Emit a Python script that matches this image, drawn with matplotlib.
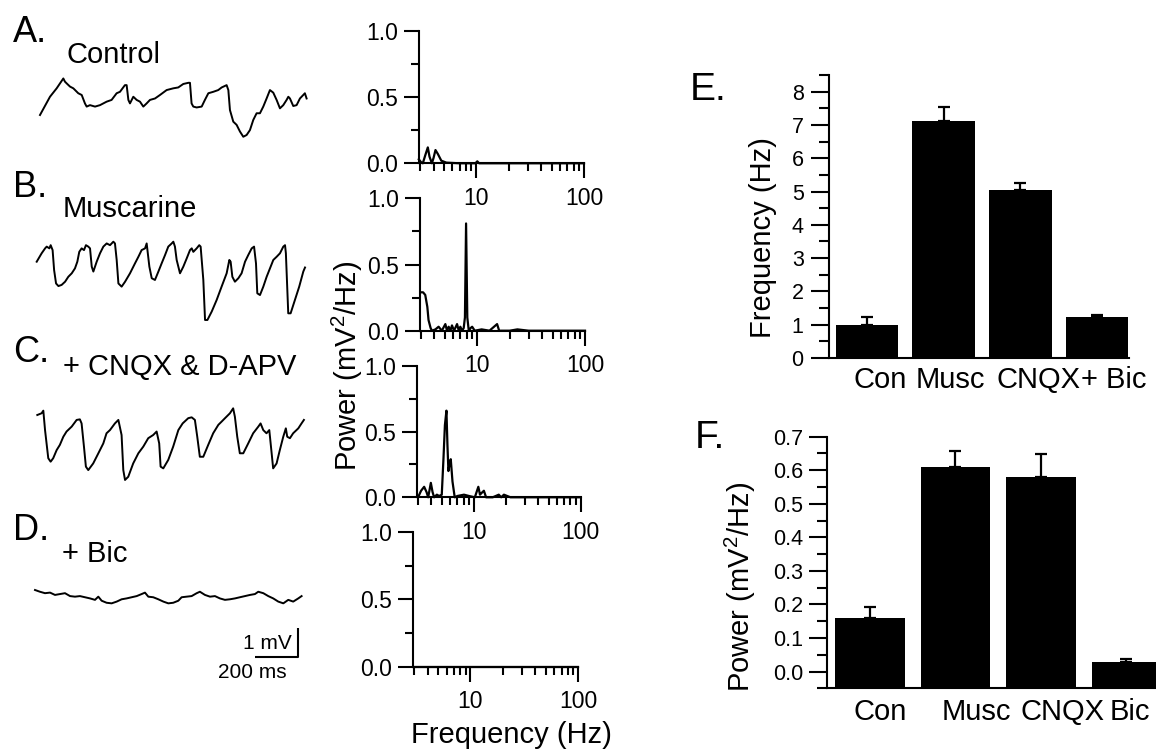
import numpy as np
import matplotlib
matplotlib.use("Agg")
import matplotlib.pyplot as plt
from matplotlib.ticker import FixedLocator, NullFormatter, LogLocator, MultipleLocator

plt.rcParams['font.family'] = ['Liberation Sans', 'DejaVu Sans']
plt.rcParams['mathtext.fontset'] = 'custom'
plt.rcParams['mathtext.rm'] = 'Liberation Sans'

# ---------------- data ----------------
# voltage traces (time in ms, membrane potential in mV relative to trace start)
trace_a_t = [0, 46.5, 77.5, 108.5, 116, 124, 139.5, 155, 178, 194, 209, 217, 232.5, 256, 279, 310, 333, 356.5,
             372, 395, 403, 411, 418.5, 434, 449.5, 465, 480.5, 496, 511.5, 535, 558, 589, 620, 643, 666.5, 690,
             697.5, 705, 713, 728.5, 752, 767, 783, 806, 829, 845, 868, 876, 883.5, 899, 914.5, 930, 945.5, 961,
             976.5, 992, 1007.5, 1023, 1038.5, 1054, 1069.5, 1085, 1100.5, 1116, 1131.5, 1147, 1155, 1162.5, 1178,
             1193.5, 1209, 1224.5, 1232, 1240]
trace_a_v = [0, 0.63, 0.92, 1.26, 1.15, 1.09, 0.98, 0.92, 0.75, 0.69, 0.40, 0.29, 0.34, 0.29, 0.34, 0.46, 0.52, 0.75,
             0.80, 1.03, 1.03, 0.52, 0.40, 0.63, 0.52, 0.46, 0.29, 0.40, 0.52, 0.57, 0.69, 0.86, 0.92, 0.95, 1.07, 1.11,
             1.11, 0.40, 0.29, 0.26, 0.29, 0.52, 0.75, 0.80, 0.86, 0.95, 1.03, 0.86, 0.17, -0.23, -0.34, -0.57, -0.75,
             -0.69, -0.52, -0.17, 0.06, 0.06, 0.29, 0.57, 0.86, 0.77, 0.52, 0.23, 0.34, 0.52, 0.63, 0.57, 0.31, 0.34,
             0.57, 0.69, 0.75, 0.57]

trace_b_t = [0, 23, 39, 46.5, 59, 65, 74, 81, 90, 101, 116, 132, 147, 163, 178, 189, 198, 209, 220, 229, 240, 248,
             256, 263.5, 279, 294.5, 310, 325.5, 341, 356.5, 364, 372, 380, 395, 411, 434, 457, 473, 488, 504, 511.5,
             524, 535, 550, 566, 581, 597, 612, 628, 635.5, 643, 651, 666.5, 682, 697.5, 713, 721, 728.5, 744, 756,
             762.5, 775, 783, 794, 814, 837, 860, 883.5, 896, 902, 910, 922, 938, 953, 969, 984, 1000, 1011, 1020,
             1026, 1038.5, 1054, 1069.5, 1085, 1100.5, 1116, 1131.5, 1147, 1155, 1159, 1170, 1181, 1201, 1221, 1240,
             1248]
trace_b_v = [0, 0.29, 0.46, 0.52, 0.46, 0.57, 0.40, -0.29, -0.75, -0.84, -0.80, -0.69, -0.52, -0.40, -0.23, 0, 0.34,
             0.46, 0.40, 0.57, 0.52, 0.46, -0.17, -0.34, 0, 0.29, 0.52, 0.63, 0.57, 0.69, 0.63, 0.06, -0.75, -0.86,
             -0.69, -0.40, -0.06, 0.17, 0.40, 0.46, 0.63, -0.17, -0.57, -0.63, -0.34, -0.06, 0.23, 0.52, 0.63, 0.69,
             0.52, 0.06, -0.40, -0.17, 0.11, 0.40, 0.46, 0.34, 0.46, 0.57, 0.52, -0.63, -2.01, -2.01, -1.72, -1.32,
             -0.86, -0.40, 0.06, 0, -0.52, -0.69, -0.57, -0.40, 0, 0.23, 0.46, 0.52, -0.06, -1.09, -1.15, -0.86, -0.52,
             -0.23, 0.06, 0.17, 0.29, 0.52, 0.57, 0.29, -1.78, -1.78, -1.32, -0.86, -0.34, -0.20]

trace_c_t = [0, 20, 28, 36, 51, 62, 74, 90, 105, 121, 136, 160, 183, 198, 206, 217, 226, 237, 260, 284, 307, 322,
             338, 361, 377, 392, 400, 408, 423, 446, 470, 493, 516, 539, 555, 567, 573.5, 586, 609, 632, 656, 676,
             702, 718, 733, 744, 756, 772, 795, 818, 842, 857, 873, 896, 911, 919, 930, 942, 958, 981, 1004, 1028,
             1038.5, 1051, 1066, 1079, 1090, 1097, 1113, 1128, 1144, 1156, 1162.5, 1175, 1190, 1214, 1229, 1240]
trace_c_v = [0, 0.06, 0.15, -0.52, -1.49, -1.61, -1.49, -1.21, -1.03, -0.75, -0.57, -0.40, -0.17, -0.15, -0.29,
             -1.09, -1.78, -1.90, -1.67, -1.32, -0.98, -0.63, -0.52, -0.29, -0.17, -0.69, -1.90, -2.24, -2.13, -1.67,
             -1.32, -1.09, -0.80, -0.69, -0.57, -0.98, -1.78, -1.84, -1.55, -1.09, -0.52, -0.29, -0.11, -0.08, -0.17,
             -0.75, -1.44, -1.44, -1.03, -0.63, -0.34, -0.23, -0.11, 0.06, 0.23, -0.06, -0.75, -1.32, -1.32, -0.98,
             -0.63, -0.40, -0.29, -0.52, -0.63, -0.52, -1.32, -1.84, -1.67, -1.21, -0.75, -0.46, -0.75, -0.80, -0.63,
             -0.46, -0.29, -0.17]

trace_d_t = [0, 23, 46.5, 70, 93, 116, 139.5, 163, 186, 209, 232.5, 256, 279, 294.5, 310, 333, 356.5, 380, 403, 426,
             449.5, 473, 496, 511.5, 527, 550, 573.5, 597, 620, 643, 666.5, 682, 705, 728.5, 752, 767, 790.5, 814, 837,
             860, 883.5, 907, 930, 953, 976.5, 1000, 1023, 1038.5, 1062, 1085, 1108, 1131.5, 1155, 1178, 1201, 1224.5,
             1240]
trace_d_v = [0, -0.06, -0.11, -0.09, -0.17, -0.14, -0.11, -0.21, -0.23, -0.21, -0.25, -0.29, -0.34, -0.23, -0.37,
             -0.44, -0.46, -0.40, -0.32, -0.29, -0.25, -0.21, -0.14, -0.09, -0.23, -0.25, -0.32, -0.40, -0.46, -0.44,
             -0.37, -0.25, -0.23, -0.21, -0.11, -0.06, -0.17, -0.23, -0.21, -0.29, -0.34, -0.32, -0.29, -0.25, -0.21,
             -0.17, -0.14, -0.06, -0.11, -0.21, -0.29, -0.40, -0.46, -0.34, -0.40, -0.29, -0.21]

trace_labels = ["Control", "Muscarine", "+ CNQX & D-APV", "+ Bic"]
panel_letters = ["A.", "B.", "C.", "D."]

# power spectra (Hz, mV^2/Hz)
spec_a_f = [2.92, 3.05, 3.18, 3.35, 3.54, 3.67, 3.86, 4.0, 4.17, 4.39, 4.72, 5.26, 7, 9.8, 10.2, 10.6, 15, 30, 100]
spec_a_p = [0.03, 0.01, 0.0, 0.06, 0.12, 0.05, 0.0, 0.04, 0.10, 0.07, 0.02, 0.005, 0.0, 0.0, 0.015, 0.0, 0.0, 0.0, 0.0]
spec_b_f = [3.0, 3.15, 3.3, 3.45, 3.54, 3.7, 3.81, 4.1, 4.39, 4.7, 5.07, 5.25, 5.44, 5.65, 5.84, 6.1, 6.51, 6.75,
            6.98, 7.25, 7.5, 7.7, 7.89, 8.1, 8.36, 8.7, 8.98, 9.5, 11, 13, 15.3, 16, 20, 23.6, 30, 100]
spec_b_p = [0.29, 0.29, 0.27, 0.18, 0.08, 0.02, 0.0, 0.01, 0.03, 0.0, 0.05, 0.0, 0.03, 0.0, 0.04, 0.0, 0.05, 0.0,
            0.03, 0.0, 0.02, 0.1, 0.81, 0.1, 0.0, 0.02, 0.03, 0.0, 0.01, 0.0, 0.05, 0.0, 0.0, 0.01, 0.0, 0.0]
spec_c_f = [3.0, 3.2, 3.42, 3.6, 3.73, 3.85, 3.95, 4.1, 4.24, 4.5, 4.72, 5.0, 5.19, 5.35, 5.53, 5.65, 5.77, 5.9,
            6.07, 6.3, 6.61, 7.0, 8.07, 9.0, 10.2, 11.0, 11.4, 11.7, 12.4, 13.0, 15, 17.1, 18, 19.1, 22, 30, 100]
spec_c_p = [0.0, 0.05, 0.08, 0.04, 0.0, 0.06, 0.11, 0.04, 0.0, 0.02, 0.01, 0.02, 0.3, 0.55, 0.66, 0.4, 0.2, 0.25,
            0.29, 0.12, 0.0, 0.01, 0.02, 0.01, 0.0, 0.08, 0.02, 0.03, 0.05, 0.0, 0.0, 0.02, 0.0, 0.02, 0.0, 0.0, 0.0]
spec_d_f = [3.0, 100]
spec_d_p = [0.0, 0.0]

# bar charts
bar_categories_e = ["Con", "Musc", "CNQX", "+ Bic"]
freq_mean = [1.0, 7.12, 5.06, 1.23]
freq_err = [0.24, 0.42, 0.20, 0.07]
bar_categories_f = ["Con", "Musc", "CNQX", "Bic"]
power_mean = [0.161, 0.609, 0.579, 0.028]
power_err = [0.031, 0.049, 0.070, 0.010]

# ---------------- layout helpers ----------------
W, H = 1156, 755
fig = plt.figure(figsize=(W / 100, H / 100), dpi=100)
fig.patch.set_facecolor('white')


def px_axes(left, top, right, bottom):
    return fig.add_axes([left / W, 1 - bottom / H, (right - left) / W, (bottom - top) / H])


def ftext(x, y, s, **kw):
    return fig.text(x / W, 1 - y / H, s, **kw)


LW = 1.5

# ---------------- traces ----------------
MS_PER_PX = 200 / 43.0
MV_PER_PX = 1 / 29.0
X0 = 37
ax_tr = px_axes(0, 0, 330, 700)
ax_tr.set_xlim(-X0 * MS_PER_PX, (330 - X0) * MS_PER_PX)
ax_tr.set_ylim(-700 * MV_PER_PX, 0)
ax_tr.axis('off')

traces = [(trace_a_t, trace_a_v), (trace_b_t, trace_b_v), (trace_c_t, trace_c_v), (trace_d_t, trace_d_v)]
trace_start_px = [(40, 115), (36.7, 261.7), (37.3, 415), (35, 590)]
for (t, v), (sx, sy) in zip(traces, trace_start_px):
    toff = (sx - X0) * MS_PER_PX
    voff = -sy * MV_PER_PX
    ax_tr.plot(np.array(t) + toff, np.array(v) + voff, color='black', lw=1.4, solid_joinstyle='round')

# scale bar: 200 ms x 1 mV
sb_x = (298 - X0) * MS_PER_PX
sb_y = -657 * MV_PER_PX
ax_tr.plot([sb_x - 200, sb_x, sb_x], [sb_y, sb_y, sb_y + 1], color='black', lw=1.5, solid_capstyle='butt')
ax_tr.text(sb_x - 6 * MS_PER_PX, sb_y + 0.45, "1 mV", ha='right', va='center', fontsize=15)
ax_tr.text(sb_x - 46 * MS_PER_PX, sb_y - 0.55, "200 ms", ha='center', va='center', fontsize=15)

letter_pos = [(13, 42), (13, 197), (13, 362), (13, 540)]
label_pos = [(67, 63), (63, 216.7), (63, 375), (62, 562)]
for s, (x, y) in zip(panel_letters, letter_pos):
    ftext(x, y, s, fontsize=26, va='baseline', ha='left')
for s, (x, y) in zip(trace_labels, label_pos):
    ftext(x, y, s, fontsize=21, va='baseline', ha='left')

# ---------------- spectra ----------------
spec_boxes = [(419.3, 30.7, 584, 163.3), (420, 198.3, 585, 330.7), (417.3, 366, 580.7, 497.3),
              (413.3, 532, 578.3, 666.7)]
specs = [(spec_a_f, spec_a_p), (spec_b_f, spec_b_p), (spec_c_f, spec_c_p), (spec_d_f, spec_d_p)]
for (f, p), box in zip(specs, spec_boxes):
    ax = px_axes(*box)
    ax.plot(f, p, color='black', lw=1.6, clip_on=False)
    ax.set_xscale('log')
    ax.set_xlim(2.95, 100)
    ax.set_ylim(0, 1.0)
    ax.xaxis.set_major_locator(FixedLocator([10, 100]))
    ax.set_xticklabels(['10', '100'])
    ax.xaxis.set_minor_locator(LogLocator(base=10, subs=[2, 3, 4, 5, 6, 7, 8, 9]))
    ax.xaxis.set_minor_formatter(NullFormatter())
    ax.set_yticks([0, 0.5, 1.0])
    ax.set_yticklabels(['0.0', '0.5', '1.0'])
    ax.yaxis.set_minor_locator(FixedLocator([0.25, 0.75]))
    for s in ['top', 'right']:
        ax.spines[s].set_visible(False)
    for s in ['left', 'bottom']:
        ax.spines[s].set_linewidth(LW)
    ax.tick_params(which='major', direction='out', length=11, width=LW, labelsize=16.5, pad=4)
    ax.tick_params(which='minor', direction='out', length=6, width=LW)
    ax.tick_params(axis='x', which='major', pad=6)
    ax.patch.set_alpha(0)

ftext(347, 366, 'Power (mV$^{2}$/Hz)', rotation=90, ha='center', va='center', fontsize=21)
ftext(511.7, 735, 'Frequency (Hz)', ha='center', va='center', fontsize=21)

# ---------------- bar chart E ----------------
E_DX = 76.7  # px per category
axE = px_axes(828.7, 75, 828.7 + 3.91 * E_DX, 358)
xe = np.arange(len(freq_mean))
axE.bar(xe, freq_mean, width=0.816, color='black')
axE.errorbar(xe, freq_mean, yerr=[np.zeros(len(freq_err)), freq_err], fmt='none', ecolor='black',
             elinewidth=1.6, capsize=4, capthick=1.6)
axE.set_xlim(-0.5, 3.41)
axE.set_ylim(0, 8.5)
axE.yaxis.set_major_locator(MultipleLocator(1))
axE.yaxis.set_minor_locator(MultipleLocator(0.5))
e_label_shift = [0.17, 0.08, 0.23, 0.21]
axE.set_xticks(xe + np.array(e_label_shift))
axE.set_xticklabels(bar_categories_e, fontsize=21)
axE.tick_params(axis='x', length=0, pad=6)
axE.tick_params(axis='y', which='major', direction='out', length=13, width=LW, labelsize=15.5, pad=5)
axE.tick_params(axis='y', which='minor', direction='out', length=7, width=LW)
for s in ['top', 'right']:
    axE.spines[s].set_visible(False)
for s in ['left', 'bottom']:
    axE.spines[s].set_linewidth(LW)
ftext(763, 237.5, 'Frequency (Hz)', rotation=90, ha='center', va='center', fontsize=21)
ftext(690, 100, 'E.', fontsize=28, va='baseline', ha='left')

# ---------------- bar chart F ----------------
F_DX = 85.5
axF = px_axes(826.7, 436.7, 826.7 + 4.0 * F_DX, 688.3)
xf = np.arange(len(power_mean))
axF.bar(xf, np.array(power_mean) + 0.05, bottom=-0.05, width=0.81, color='black')
axF.errorbar(xf, power_mean, yerr=[np.zeros(len(power_err)), power_err], fmt='none', ecolor='black',
             elinewidth=1.6, capsize=4.5, capthick=1.6)
axF.set_xlim(-0.506, 3.494)
axF.set_ylim(-0.05, 0.7)
axF.set_yticks([0.0, 0.1, 0.2, 0.3, 0.4, 0.5, 0.6, 0.7])
axF.set_yticklabels(['0.0', '0.1', '0.2', '0.3', '0.4', '0.5', '0.6', '0.7'])
axF.yaxis.set_minor_locator(FixedLocator([-0.05, 0.05, 0.15, 0.25, 0.35, 0.45, 0.55, 0.65]))
f_label_shift = [0.12, 0.25, 0.25, 0.04]
axF.set_xticks(xf + np.array(f_label_shift))
axF.set_xticklabels(bar_categories_f, fontsize=21)
axF.tick_params(axis='x', length=0, pad=7)
axF.tick_params(axis='y', which='major', direction='out', length=13, width=LW, labelsize=15.5, pad=4)
axF.tick_params(axis='y', which='minor', direction='out', length=7, width=LW)
for s in ['top', 'right']:
    axF.spines[s].set_visible(False)
for s in ['left', 'bottom']:
    axF.spines[s].set_linewidth(LW)
ftext(740.7, 586.7, 'Power (mV$^{2}$/Hz)', rotation=90, ha='center', va='center', fontsize=21)
ftext(695, 448, 'F.', fontsize=28, va='baseline', ha='left')

fig.savefig('out.png', dpi=100, facecolor='white')
